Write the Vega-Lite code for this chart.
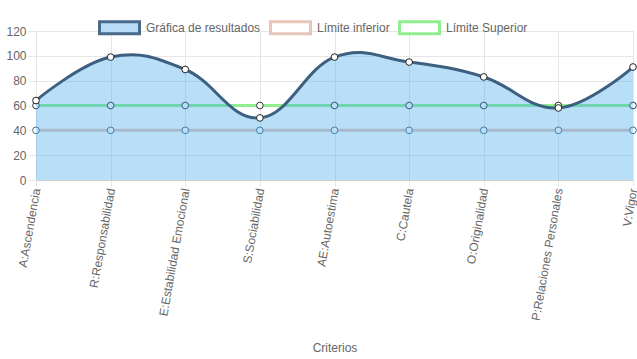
{
  "$schema": "https://vega.github.io/schema/vega-lite/v6.json",
  "width": 597,
  "height": 149,
  "autosize": {"type": "none"},
  "padding": {"left": 36, "top": 31, "right": 4, "bottom": 179},
  "config": {
    "font": "Liberation Sans",
    "view": {"stroke": null},
    "axis": {
      "labelFont": "Liberation Sans",
      "labelFontSize": 12,
      "labelColor": "#666666",
      "titleFont": "Liberation Sans",
      "titleFontSize": 12,
      "titleFontWeight": "normal",
      "titleColor": "#666666",
      "gridColor": "#e6e6e6",
      "tickColor": "#e6e6e6",
      "domainColor": "#d0d0d0"
    },
    "legend": {
      "orient": "none",
      "legendX": 62,
      "legendY": -25,
      "direction": "horizontal",
      "symbolType": "M-1,-0.3H1V0.3H-1Z",
      "symbolSize": 1600,
      "symbolStrokeWidth": 3,
      "labelFont": "Liberation Sans",
      "labelFontSize": 12,
      "labelColor": "#666666",
      "labelOffset": 5,
      "columnPadding": 3
    }
  },
  "data": {
    "values": [
      {"criterio": "A:Ascendencia", "resultado": 64, "inferior": 40, "superior": 60},
      {"criterio": "R:Responsabilidad", "resultado": 99, "inferior": 40, "superior": 60},
      {"criterio": "E:Estabilidad Emocional", "resultado": 89, "inferior": 40, "superior": 60},
      {"criterio": "S:Sociabilidad", "resultado": 50, "inferior": 40, "superior": 60},
      {"criterio": "AE:Autoestima", "resultado": 99, "inferior": 40, "superior": 60},
      {"criterio": "C:Cautela", "resultado": 95, "inferior": 40, "superior": 60},
      {"criterio": "O:Originalidad", "resultado": 83, "inferior": 40, "superior": 60},
      {"criterio": "P:Relaciones Personales", "resultado": 58, "inferior": 40, "superior": 60},
      {"criterio": "V:Vigor", "resultado": 91, "inferior": 40, "superior": 60}
    ]
  },
  "encoding": {
    "x": {
      "field": "criterio",
      "type": "ordinal",
      "sort": null,
      "scale": {"type": "point", "padding": 0},
      "axis": {
        "title": "Criterios",
        "labelAngle": -80,
        "grid": true,
        "tickSize": 6,
        "labelPadding": 2,
        "titlePadding": 21
      }
    }
  },
  "layer": [
    {
      "mark": {"type": "line", "stroke": "#e5c6b9", "strokeWidth": 3},
      "encoding": {
        "y": {
          "field": "inferior",
          "type": "quantitative",
          "scale": {"domain": [0, 120], "nice": false},
          "axis": {"title": null, "values": [0, 20, 40, 60, 80, 100, 120], "tickSize": 8, "labelPadding": 2, "grid": true, "domain": false, "labelOverlap": false}
        }
      }
    },
    {
      "mark": {"type": "line", "stroke": "#90ee90", "strokeWidth": 3},
      "encoding": {"y": {"field": "superior", "type": "quantitative", "axis": {"title": null, "values": [0, 20, 40, 60, 80, 100, 120], "tickSize": 8, "labelPadding": 2, "grid": true, "domain": false, "labelOverlap": false}}}
    },
    {
      "mark": {"type": "point", "filled": true, "fill": "white", "stroke": "#4a6a88", "strokeWidth": 1, "size": 45, "opacity": 1},
      "encoding": {"y": {"field": "inferior", "type": "quantitative", "axis": {"title": null, "values": [0, 20, 40, 60, 80, 100, 120], "tickSize": 8, "labelPadding": 2, "grid": true, "domain": false, "labelOverlap": false}}}
    },
    {
      "mark": {"type": "point", "filled": true, "fill": "white", "stroke": "#333333", "strokeWidth": 1, "size": 45, "opacity": 1},
      "encoding": {"y": {"field": "superior", "type": "quantitative", "axis": {"title": null, "values": [0, 20, 40, 60, 80, 100, 120], "tickSize": 8, "labelPadding": 2, "grid": true, "domain": false, "labelOverlap": false}}}
    },
    {
      "mark": {"type": "area", "interpolate": "cardinal", "tension": -0.2, "fill": "#36a2eb", "fillOpacity": 0.35},
      "encoding": {"y": {"field": "resultado", "type": "quantitative", "axis": {"title": null, "values": [0, 20, 40, 60, 80, 100, 120], "tickSize": 8, "labelPadding": 2, "grid": true, "domain": false, "labelOverlap": false}}}
    },
    {
      "mark": {"type": "line", "interpolate": "cardinal", "tension": -0.2, "stroke": "#3d6080", "strokeWidth": 3},
      "encoding": {"y": {"field": "resultado", "type": "quantitative", "axis": {"title": null, "values": [0, 20, 40, 60, 80, 100, 120], "tickSize": 8, "labelPadding": 2, "grid": true, "domain": false, "labelOverlap": false}}}
    },
    {
      "mark": {"type": "point", "filled": true, "fill": "white", "stroke": "#222222", "strokeWidth": 1, "size": 45, "opacity": 1},
      "encoding": {"y": {"field": "resultado", "type": "quantitative", "axis": {"title": null, "values": [0, 20, 40, 60, 80, 100, 120], "tickSize": 8, "labelPadding": 2, "grid": true, "domain": false, "labelOverlap": false}}}
    },
    {
      "transform": [{"filter": "false"}],
      "mark": {"type": "point", "filled": true, "opacity": 1},
      "encoding": {
        "y": {"field": "resultado", "type": "quantitative", "axis": {"title": null, "values": [0, 20, 40, 60, 80, 100, 120], "tickSize": 8, "labelPadding": 2, "grid": true, "domain": false, "labelOverlap": false}},
        "fill": {
          "field": "serie",
          "type": "nominal",
          "scale": {"domain": ["Gráfica de resultados", "Límite inferior", "Límite Superior"], "range": ["#b9dbf7", "#ffffff", "#ffffff"]},
          "legend": {"title": null}
        },
        "stroke": {
          "field": "serie",
          "type": "nominal",
          "scale": {"domain": ["Gráfica de resultados", "Límite inferior", "Límite Superior"], "range": ["#4a6a8a", "#e5c6b9", "#90ee90"]},
          "legend": {"title": null}
        }
      }
    }
  ]
}
